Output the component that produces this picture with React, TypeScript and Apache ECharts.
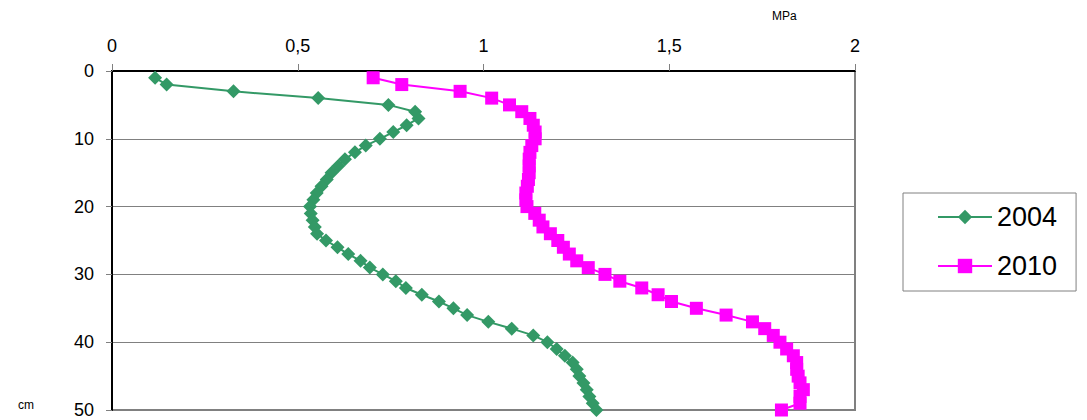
import React, { useEffect, useRef } from "react";
import * as echarts from "echarts";

const depths: number[] = Array.from({ length: 50 }, (_, i) => i + 1);

const series2004: number[] = [
  0.116, 0.147, 0.327, 0.555, 0.744, 0.816, 0.825, 0.793, 0.757, 0.721,
  0.683, 0.654, 0.627, 0.609, 0.591, 0.578, 0.564, 0.551, 0.542, 0.533,
  0.535, 0.54, 0.546, 0.552, 0.576, 0.607, 0.636, 0.669, 0.694, 0.729,
  0.764, 0.791, 0.834, 0.88, 0.919, 0.956, 1.013, 1.076, 1.134, 1.172,
  1.197, 1.219, 1.24, 1.251, 1.258, 1.269, 1.278, 1.285, 1.294, 1.304,
];

const series2010: number[] = [
  0.703, 0.78, 0.937, 1.022, 1.07, 1.103, 1.125, 1.134, 1.139, 1.139,
  1.13, 1.125, 1.123, 1.123, 1.123, 1.121, 1.118, 1.114, 1.114, 1.117,
  1.138, 1.15, 1.16, 1.18, 1.2, 1.215, 1.231, 1.251, 1.282, 1.327,
  1.367, 1.426, 1.47, 1.506, 1.573, 1.653, 1.724, 1.757, 1.78, 1.798,
  1.816, 1.834, 1.843, 1.843, 1.847, 1.852, 1.861, 1.852, 1.852, 1.802,
];

const seriesNames: string[] = ["2004", "2010"];
const xUnit = "MPa";
const yUnit = "cm";

export default function App() {
  const ref = useRef<HTMLDivElement>(null);
  useEffect(() => {
    if (!ref.current) return;
    const chart = echarts.init(ref.current, undefined, { renderer: "svg" });
    const font = "'Liberation Sans', Arial, sans-serif";
    chart.setOption({
      animation: false,
      textStyle: { fontFamily: font },
      grid: {
        left: 112,
        right: 232,
        top: 71,
        bottom: 10,
        show: true,
        borderColor: "#808080",
        borderWidth: 2,
        backgroundColor: "transparent",
      },
      legend: {
        orient: "vertical",
        left: 903,
        top: 193,
        padding: [10, 19, 11, 34],
        itemWidth: 54,
        itemHeight: 18,
        itemGap: 21,
        borderColor: "#808080",
        borderWidth: 1,
        textStyle: { fontSize: 27, lineHeight: 28, color: "#000", fontFamily: font },
        data: seriesNames,
      },
      xAxis: {
        type: "value",
        position: "top",
        min: 0,
        max: 2,
        interval: 0.5,
        axisLine: { show: true, lineStyle: { color: "#000", width: 2 } },
        axisTick: { show: true, length: 7, lineStyle: { color: "#808080" } },
        axisLabel: {
          color: "#000",
          fontSize: 18,
          margin: 16,
          formatter: (v: number) => String(v).replace(".", ","),
        },
        splitLine: { show: false },
      },
      yAxis: {
        type: "value",
        inverse: true,
        min: 0,
        max: 50,
        interval: 10,
        axisLine: { show: true, lineStyle: { color: "#000", width: 2 } },
        axisTick: { show: true, length: 6, lineStyle: { color: "#808080" } },
        axisLabel: { color: "#000", fontSize: 18, margin: 18 },
        splitLine: { show: true, lineStyle: { color: "#808080", width: 1 } },
      },
      graphic: [
        {
          type: "text",
          left: 772,
          top: 10,
          style: { text: xUnit, fontSize: 12, fill: "#000", fontFamily: font },
        },
        {
          type: "text",
          left: 18,
          top: 399,
          style: { text: yUnit, fontSize: 12, fill: "#000", fontFamily: font },
        },
      ],
      series: [
        {
          name: seriesNames[0],
          type: "line",
          data: series2004.map((v, i) => [v, depths[i]]),
          symbol: "diamond",
          symbolSize: 14,
          lineStyle: { color: "#339966", width: 2 },
          itemStyle: { color: "#339966" },
        },
        {
          name: seriesNames[1],
          type: "line",
          data: series2010.map((v, i) => [v, depths[i]]),
          symbol: "rect",
          symbolSize: 13,
          lineStyle: { color: "#FF00FF", width: 2 },
          itemStyle: { color: "#FF00FF" },
        },
      ],
    });
    return () => chart.dispose();
  }, []);
  return <div ref={ref} style={{ width: 1087, height: 420, position: "absolute", left: 0, top: 0 }} />;
}
